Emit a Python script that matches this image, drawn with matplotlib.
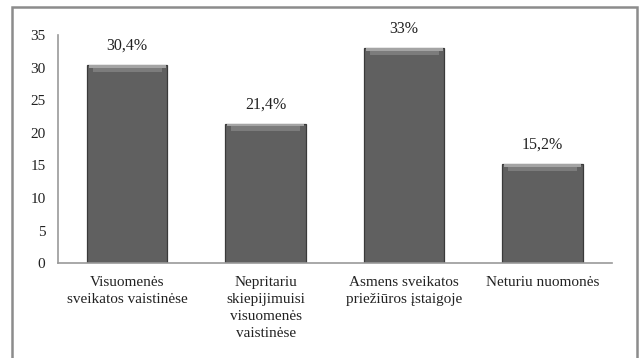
import matplotlib
matplotlib.use("Agg")
import matplotlib.pyplot as plt
from matplotlib.patches import Rectangle

categories = ["Visuomenės\nsveikatos vaistinėse",
              "Nepritariu\nskiepijimuisi\nvisuomenės\nvaistinėse",
              "Asmens sveikatos\npriežiūros įstaigoje",
              "Neturiu nuomonės"]
values = [30.4, 21.4, 33.0, 15.2]
value_labels = ["30,4%", "21,4%", "33%", "15,2%"]
yticks = [0, 5, 10, 15, 20, 25, 30, 35]

plt.rcParams['font.family'] = ['Liberation Serif', 'DejaVu Serif']

fig = plt.figure(figsize=(6.44, 3.58), dpi=100)
ax = fig.add_axes([0.090, 0.265, 0.860, 0.637])

x = list(range(len(values)))
w = 0.58
ax.bar(x, values, width=w, color='#606060', edgecolor='#3a3a3a', linewidth=0.9, zorder=2)
# bevel highlight on top
ax.bar(x, [0.75] * len(values), bottom=[v - 1.05 for v in values], width=w * 0.86,
       color='#7c7c7c', linewidth=0, zorder=3)
ax.bar(x, [0.35] * len(values), bottom=[v - 0.4 for v in values], width=w * 0.96,
       color='#a4a4a4', linewidth=0, zorder=3)

for xi, v, lab in zip(x, values, value_labels):
    ax.annotate(lab, (xi, v), xytext=(0, 8), textcoords='offset points',
                ha='center', va='bottom', fontsize=11.5, color='#222222')

ax.set_ylim(0, 35)
ax.set_xlim(-0.5, len(values) - 0.5)
ax.set_yticks(yticks)
ax.set_xticks(x)
ax.set_xticklabels(categories, fontsize=11, color='#222222', linespacing=1.4, va='top')
ax.tick_params(axis='y', length=0, pad=9, labelsize=11, labelcolor='#222222')
ax.tick_params(axis='x', length=0, pad=9)
for s in ['top', 'right']:
    ax.spines[s].set_visible(False)
ax.spines['left'].set_color('#999999')
ax.spines['bottom'].set_color('#999999')
ax.spines['left'].set_linewidth(1.2)
ax.spines['bottom'].set_linewidth(1.2)

fig.patches.append(Rectangle((12 / 644, -0.02), (637 - 12) / 644, 1.02 - 7 / 358,
                             transform=fig.transFigure, fill=False,
                             edgecolor='#8c8c8c', linewidth=1.8))

fig.savefig("out.png", dpi=100)
